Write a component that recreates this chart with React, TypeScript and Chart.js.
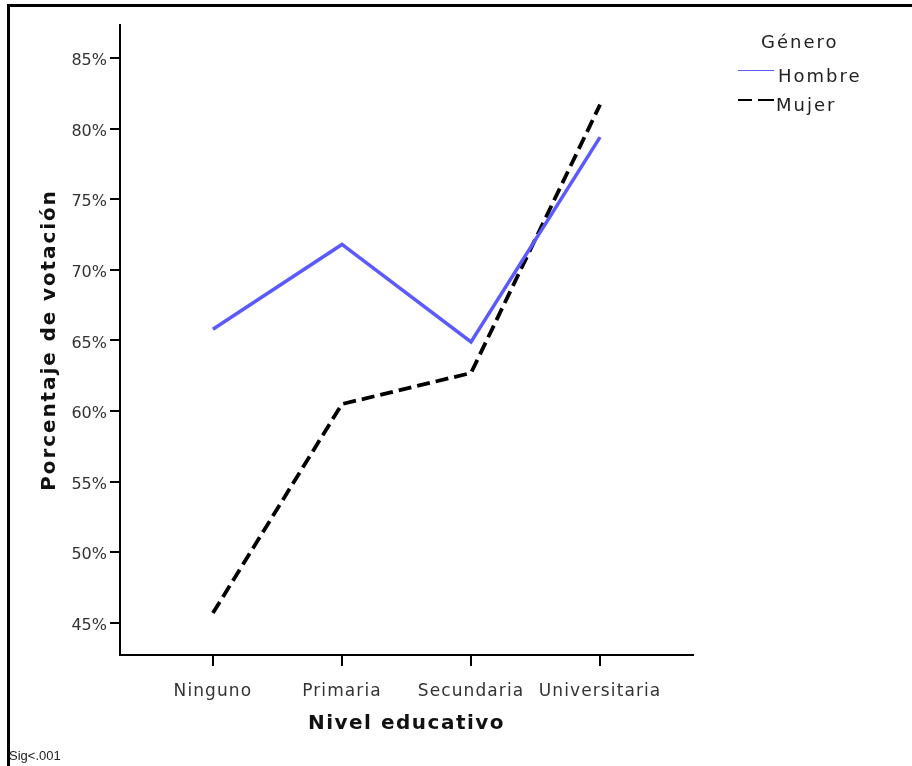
import React, { useEffect, useRef } from "react";
import { Chart, registerables } from "chart.js";

Chart.register(...registerables);

const categories = ["Ninguno", "Primaria", "Secundaria", "Universitaria"];
const hombre = [65.8, 71.8, 64.9, 79.4];
const mujer = [45.7, 60.5, 62.7, 81.7];
const yTickValues = [45, 50, 55, 60, 65, 70, 75, 80, 85];
const seriesNames = ["Hombre", "Mujer"];
const legendTitle = "Género";
const xTitle = "Nivel educativo";
const yTitle = "Porcentaje de votación";
const footnote = "Sig<.001";

const FONT = "'DejaVu Sans', sans-serif";

function withSpacing(fn: any, sp: string) {
  return function (this: any, ...args: any[]) {
    const ctx = this.ctx;
    const prev = ctx.letterSpacing;
    ctx.letterSpacing = sp;
    const r = fn.apply(this, args);
    ctx.letterSpacing = prev;
    return r;
  };
}

const spacingPlugin = {
  id: "spacing",
  beforeDraw(chart: any) {
    const x = chart.scales.x;
    const y = chart.scales.y;
    if (x && !x.__patched) {
      x.drawLabels = withSpacing(x.drawLabels, "1.1px");
      x.drawTitle = withSpacing(x.drawTitle, "1.5px");
      x.__patched = true;
    }
    if (y && !y.__patched) {
      y.drawTitle = withSpacing(y.drawTitle, "1.9px");
      y.__patched = true;
    }
  },
};

export default function App() {
  const ref = useRef<HTMLCanvasElement>(null);
  useEffect(() => {
    const chart = new Chart(ref.current!, {
      type: "line",
      data: {
        datasets: [
          {
            label: seriesNames[0],
            data: hombre.map((v, i) => ({ x: i, y: v })),
            borderColor: "#5a5aff",
            borderWidth: 3.5,
            pointRadius: 0,
            tension: 0,
          },
          {
            label: seriesNames[1],
            data: mujer.map((v, i) => ({ x: i, y: v })),
            borderColor: "#000000",
            borderWidth: 3.8,
            borderDash: [13, 6],
            pointRadius: 0,
            tension: 0,
          },
        ],
      },
      options: {
        responsive: false,
        animation: false,
        layout: { padding: { top: 25, right: 219, left: 0, bottom: 0 } },
        plugins: { legend: { display: false }, tooltip: { enabled: false } },
        scales: {
          x: {
            type: "linear",
            min: -0.72,
            max: 3.72,
            afterBuildTicks: (s: any) => {
              s.ticks = categories.map((_, i) => ({ value: i }));
            },
            afterFit: (s: any) => {
              s.height = 111;
            },
            ticks: {
              autoSkip: false,
              maxRotation: 0,
              padding: 15,
              color: "#333",
              font: { family: FONT, size: 17 },
              callback: (v: any) => categories[v] ?? "",
            },
            grid: {
              drawOnChartArea: false,
              drawTicks: true,
              tickLength: 11,
              color: "#000",
              lineWidth: 2,
            },
            border: { display: true, color: "#000", width: 2 },
            title: {
              display: true,
              text: xTitle,
              color: "#111",
              font: { family: FONT, size: 20, weight: "bold" },
              padding: { top: 0, bottom: 30 },
            },
          },
          y: {
            type: "linear",
            min: 42.73,
            max: 87.34,
            afterBuildTicks: (s: any) => {
              s.ticks = yTickValues.map((v) => ({ value: v }));
            },
            afterFit: (s: any) => {
              s.width = 120;
            },
            ticks: {
              padding: 3,
              labelOffset: 3,
              color: "#333",
              font: { family: FONT, size: 16 },
              callback: (v: any) => v + "%",
            },
            grid: {
              drawOnChartArea: false,
              drawTicks: true,
              tickLength: 10,
              color: "#000",
              lineWidth: 2,
            },
            border: { display: true, color: "#000", width: 2 },
            title: {
              display: true,
              text: yTitle,
              color: "#111",
              font: { family: FONT, size: 20, weight: "bold" },
              padding: { top: 38, bottom: 0 },
            },
          },
        },
      },
      plugins: [spacingPlugin],
    });
    return () => chart.destroy();
  }, []);

  const text: React.CSSProperties = {
    position: "absolute",
    fontFamily: FONT,
    color: "#222",
    whiteSpace: "nowrap",
    lineHeight: "1",
    fontSize: 18,
    letterSpacing: "2px",
  };

  return (
    <div style={{ position: "fixed", left: 0, top: 0, width: 912, height: 766, overflow: "hidden", background: "#fff" }}>
      <div
        style={{
          position: "absolute",
          left: 7,
          top: 4,
          width: 940,
          height: 800,
          border: "3px solid #000",
          boxSizing: "border-box",
        }}
      />
      <canvas ref={ref} width={912} height={766} style={{ position: "absolute", left: 0, top: 0 }} />
      <div style={{ ...text, left: 761, top: 33 }}>{legendTitle}</div>
      <div style={{ position: "absolute", left: 738, top: 70, width: 36, height: 1, background: "#5a5aff" }} />
      <div style={{ ...text, left: 778, top: 67 }}>{seriesNames[0]}</div>
      <div style={{ position: "absolute", left: 738, top: 99, width: 14, height: 2, background: "#000" }} />
      <div style={{ position: "absolute", left: 758, top: 99, width: 16, height: 2, background: "#000" }} />
      <div style={{ ...text, left: 776, top: 95.5 }}>{seriesNames[1]}</div>
      <div
        style={{
          position: "absolute",
          left: 9,
          top: 749,
          fontSize: 13,
          lineHeight: "1",
          color: "#222",
          whiteSpace: "nowrap",
          fontFamily: "'Liberation Sans', Arial, sans-serif",
        }}
      >
        {footnote}
      </div>
    </div>
  );
}
